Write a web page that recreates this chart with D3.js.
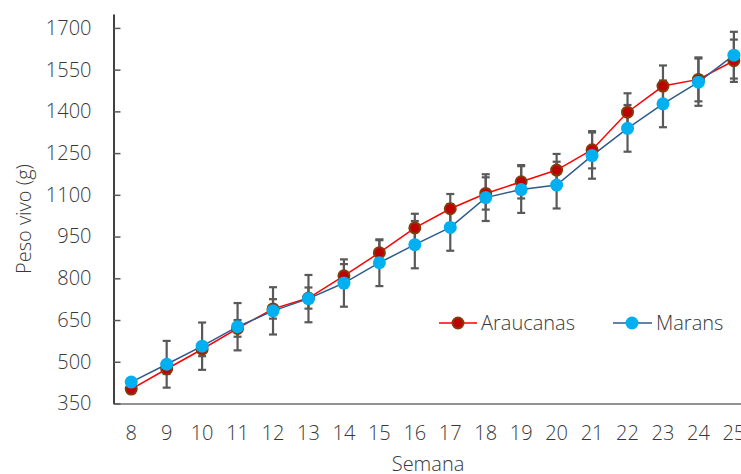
<!DOCTYPE html>
<html>
<head>
<meta charset="utf-8">
<script src="https://cdn.jsdelivr.net/npm/d3@7"></script>
<style>
  body { margin: 0; background: #fff; }
  text { font-family: "Open Sans", Lato, sans-serif; font-weight: 300; fill: #383838; }
</style>
</head>
<body>
<div class="chart"></div>
<script>
// data
var weeks = [8, 9, 10, 11, 12, 13, 14, 15, 16, 17, 18, 19, 20, 21, 22, 23, 24, 25];
var araucanas = [402, 474, 545, 620, 690, 729, 809, 892, 981, 1050, 1105, 1147, 1189, 1262, 1397, 1491, 1515, 1582];
var araucanasErr = [10, 18, 25, 30, 35, 38, 42, 45, 51, 53, 58, 60, 58, 67, 68, 74, 79, 76];
var marans = [427, 491, 556, 626, 683, 727, 783, 856, 921, 983, 1090, 1119, 1135, 1241, 1339, 1427, 1505, 1602];
var maransErr = [10, 84, 85, 85, 85, 85, 85, 84, 85, 84, 84, 84, 84, 83, 84, 84, 85, 84];
var yTicks = [350, 500, 650, 800, 950, 1100, 1250, 1400, 1550, 1700];

var svgWidth = 741;
var svgHeight = 474;
var fontSize = "20px";

var svg = d3.select(".chart")
  .append("svg")
  .attr("width", svgWidth)
  .attr("height", svgHeight);

var plotLeft = 113.5, plotBottom = 403.5, plotTop = 14;

// scales
var xScale = d3.scaleBand()
  .domain(weeks)
  .range([plotLeft, plotLeft + weeks.length * 35.45])
  .paddingInner(0);
var xPos = d => xScale(d) + xScale.bandwidth() / 2;

var yScale = d3.scaleLinear()
  .domain([350, 1750])
  .range([plotBottom, plotTop]);

// x axis
var xAxis = svg.append("g")
  .attr("transform", `translate(0, ${plotBottom})`)
  .call(d3.axisBottom(xScale).tickSize(0).tickPadding(22).tickSizeOuter(0));
xAxis.select(".domain").attr("stroke", "#6e6e6e").attr("stroke-width", 1.5);
xAxis.selectAll("text").attr("font-size", fontSize).attr("fill", null);

// y axis
var yAxis = svg.append("g")
  .attr("transform", `translate(${plotLeft}, 0)`)
  .call(d3.axisLeft(yScale).tickValues(yTicks).tickFormat(d3.format("d"))
    .tickSizeInner(-7).tickSizeOuter(0).tickPadding(22));
yAxis.select(".domain").attr("stroke", "#000").attr("stroke-width", 1.5);
yAxis.selectAll(".tick line").attr("stroke", "#595959").attr("stroke-width", 1.5);
yAxis.selectAll("text").attr("font-size", fontSize).attr("fill", null);

// d3 axis sets font-family on the group, clear it so css applies
xAxis.attr("font-family", null).attr("font-size", null);
yAxis.attr("font-family", null).attr("font-size", null);

// axis titles
svg.append("text")
  .attr("x", 428)
  .attr("y", 471)
  .attr("text-anchor", "middle")
  .attr("font-size", fontSize)
  .text("Semana");

svg.append("text")
  .attr("transform", "translate(31, 219) rotate(-90)")
  .attr("text-anchor", "middle")
  .attr("font-size", fontSize)
  .text("Peso vivo (g)");

// error bars
function errorBars(values, errs) {
  var g = svg.append("g")
    .attr("stroke", "#595959")
    .attr("stroke-width", 2.2)
    .attr("fill", "none");
  weeks.forEach(function (w, i) {
    var x = xPos(w);
    var y1 = yScale(values[i] + errs[i]);
    var y2 = yScale(values[i] - errs[i]);
    g.append("line").attr("x1", x).attr("x2", x).attr("y1", y1).attr("y2", y2);
    g.append("line").attr("x1", x - 4).attr("x2", x + 4).attr("y1", y1).attr("y2", y1);
    g.append("line").attr("x1", x - 4).attr("x2", x + 4).attr("y1", y2).attr("y2", y2);
  });
}
errorBars(araucanas, araucanasErr);
errorBars(marans, maransErr);

// lines
var line = d3.line()
  .x((d, i) => xPos(weeks[i]))
  .y(d => yScale(d));

svg.append("path")
  .datum(araucanas)
  .attr("d", line)
  .attr("fill", "none")
  .attr("stroke", "#ff0000")
  .attr("stroke-width", 1.5);

svg.append("path")
  .datum(marans)
  .attr("d", line)
  .attr("fill", "none")
  .attr("stroke", "#2f5a8c")
  .attr("stroke-width", 1.5);

// markers
svg.append("g").selectAll("circle")
  .data(araucanas)
  .enter()
  .append("circle")
  .attr("cx", (d, i) => xPos(weeks[i]))
  .attr("cy", d => yScale(d))
  .attr("r", 5.5)
  .attr("fill", "#c00000")
  .attr("stroke", "#843c0c")
  .attr("stroke-width", 2);

svg.append("g").selectAll("circle")
  .data(marans)
  .enter()
  .append("circle")
  .attr("cx", (d, i) => xPos(weeks[i]))
  .attr("cy", d => yScale(d))
  .attr("r", 6.5)
  .attr("fill", "#00b0f0");

// legend
var legend = svg.append("g");
legend.append("line").attr("x1", 439).attr("x2", 477).attr("y1", 323).attr("y2", 323)
  .attr("stroke", "#ff0000").attr("stroke-width", 1.5);
legend.append("circle").attr("cx", 458).attr("cy", 323).attr("r", 5.5)
  .attr("fill", "#c00000").attr("stroke", "#843c0c").attr("stroke-width", 2);
legend.append("text").attr("x", 481).attr("y", 330).attr("font-size", fontSize).text("Araucanas");

legend.append("line").attr("x1", 613).attr("x2", 652).attr("y1", 323).attr("y2", 323)
  .attr("stroke", "#2f5a8c").attr("stroke-width", 1.5);
legend.append("circle").attr("cx", 632).attr("cy", 323).attr("r", 6.5)
  .attr("fill", "#00b0f0");
legend.append("text").attr("x", 656).attr("y", 330).attr("font-size", fontSize).text("Marans");
</script>
</body>
</html>
